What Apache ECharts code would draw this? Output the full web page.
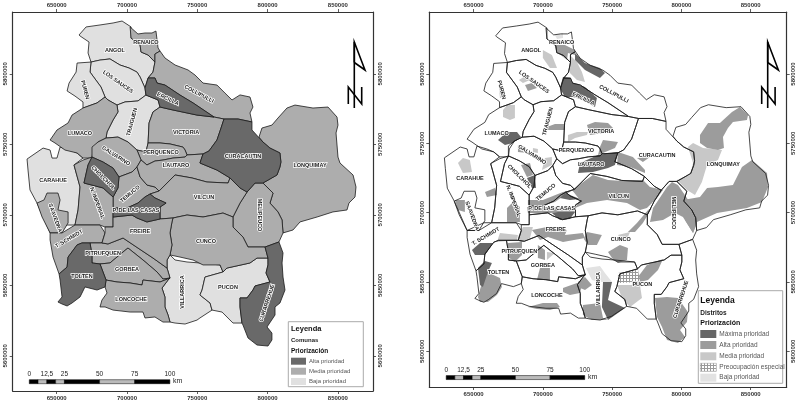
<!DOCTYPE html>
<html>
<head>
<meta charset="utf-8">
<script src="https://cdn.jsdelivr.net/npm/echarts@6/dist/echarts.min.js"></script>
<style>
  html, body { margin: 0; padding: 0; background: #fff; }
  #chart { width: 799px; height: 403px; }
</style>
</head>
<body>
<div id="chart"></div>
<script>
// Grid ticks, UTM metres
const eastTicks = [650000, 700000, 750000, 800000, 850000];
const northTicks = [5600000, 5650000, 5700000, 5750000, 5800000];

// Comuna outlines, [east km, north km]
const angol = [[665.9,5827.5],[670.9,5833.2],[680.8,5834.6],[690.1,5836.0],[696.5,5837.4],[702.9,5833.2],[702.9,5825.3],[709.3,5820.4],[710.0,5815.4],[715.0,5813.3],[719.9,5808.3],[718.5,5801.2],[715.0,5797.0],[712.8,5789.9],[709.3,5797.7],[707.1,5801.2],[701.4,5804.1],[695.0,5806.2],[687.9,5810.5],[680.8,5809.7],[674.4,5808.3],[672.3,5814.7],[673.0,5822.5],[666.6,5826.8]];
const renaico = [[702.2,5833.2],[707.8,5828.2],[712.8,5828.9],[717.8,5828.9],[720.6,5830.3],[721.4,5823.9],[722.1,5818.3],[723.5,5816.1],[719.9,5814.0],[719.9,5808.3],[715.0,5813.3],[710.0,5815.4],[709.3,5820.4],[702.9,5825.3]];
const collipulli = [[723.5,5816.1],[727.0,5811.2],[734.2,5806.2],[743.4,5802.7],[748.4,5799.1],[754.1,5793.4],[764.0,5792.0],[769.7,5786.3],[774.7,5781.4],[780.4,5785.0],[787.5,5783.5],[789.6,5776.4],[787.5,5772.2],[788.9,5765.8],[779.0,5767.9],[769.0,5767.9],[761.9,5769.3],[747.0,5779.3],[737.7,5784.9],[727.0,5792.0],[721.4,5793.4],[719.9,5797.0],[715.0,5797.0],[718.5,5801.2],[719.9,5808.3],[719.9,5814.0]];
const ercilla = [[715.0,5797.0],[719.9,5797.0],[721.4,5793.4],[727.0,5792.0],[737.7,5784.9],[747.0,5779.3],[761.9,5769.3],[749.8,5770.7],[732.7,5774.3],[723.5,5776.4],[722.1,5781.4],[713.5,5784.9],[712.8,5789.9]];
const losSauces = [[674.4,5808.3],[680.8,5809.7],[687.9,5810.5],[695.0,5806.2],[701.4,5804.1],[707.1,5801.2],[709.3,5797.7],[712.8,5789.9],[713.5,5784.9],[707.8,5780.7],[698.6,5780.0],[692.9,5777.8],[686.5,5781.4],[684.4,5783.5],[681.5,5790.6],[673.7,5801.2]];
const puren = [[674.4,5808.3],[664.5,5807.6],[663.8,5801.2],[658.8,5793.4],[657.4,5787.8],[663.0,5784.2],[668.7,5780.0],[668.7,5775.7],[678.7,5779.3],[684.4,5783.5],[681.5,5790.6],[673.7,5801.2]];
const lumaco = [[684.4,5783.5],[686.5,5781.4],[692.9,5777.8],[693.6,5772.9],[690.1,5767.2],[685.8,5758.7],[685.1,5754.4],[679.4,5751.6],[675.8,5745.9],[675.1,5740.2],[668.7,5740.2],[664.5,5743.8],[655.9,5745.9],[648.8,5750.9],[645.3,5753.0],[650.2,5760.1],[658.1,5765.1],[660.9,5770.7],[668.7,5775.7],[678.7,5779.3]];
const traiguen = [[692.9,5777.8],[698.6,5780.0],[707.8,5780.7],[713.5,5784.9],[722.1,5781.4],[723.5,5776.4],[718.5,5772.9],[715.7,5765.1],[715.0,5750.9],[713.5,5744.5],[707.1,5745.9],[700.7,5751.6],[693.6,5755.1],[685.1,5754.4],[685.8,5758.7],[690.1,5767.2],[693.6,5772.9]];
const victoria = [[723.5,5776.4],[732.7,5774.3],[749.8,5770.7],[761.9,5769.3],[769.0,5767.9],[766.9,5761.5],[764.0,5753.0],[758.3,5745.2],[754.1,5743.1],[742.7,5742.4],[741.3,5745.9],[739.8,5748.0],[730.6,5750.2],[723.5,5750.9],[715.0,5750.9],[715.7,5765.1],[718.5,5772.9]];
const perquenco = [[707.1,5745.9],[713.5,5744.5],[715.0,5750.9],[723.5,5750.9],[730.6,5750.2],[739.8,5748.0],[741.3,5745.9],[742.7,5742.4],[741.3,5740.9],[732.7,5740.2],[725.6,5738.8],[719.9,5738.1],[714.2,5735.3],[710.0,5738.8]];
const galvarino = [[675.1,5748.0],[679.4,5751.6],[685.1,5754.4],[693.6,5755.1],[700.7,5751.6],[707.1,5745.9],[710.0,5738.8],[707.1,5733.9],[703.6,5730.3],[694.3,5726.8],[690.1,5733.1],[683.0,5737.4],[675.1,5740.9]];
const cholchol = [[675.1,5740.9],[683.0,5737.4],[690.1,5733.1],[694.3,5726.8],[693.6,5719.0],[690.1,5712.6],[683.0,5719.0],[669.4,5722.5],[672.3,5735.3]];
const temuco = [[694.3,5726.8],[703.6,5730.3],[707.1,5733.9],[709.3,5726.8],[714.2,5721.1],[719.9,5719.7],[722.8,5716.8],[716.4,5714.7],[712.8,5712.6],[707.8,5708.3],[700.0,5704.8],[690.1,5704.8],[690.1,5712.6],[693.6,5719.0]];
const lautaro = [[710.0,5738.8],[714.2,5735.3],[719.9,5738.1],[725.6,5738.8],[732.7,5740.2],[741.3,5740.9],[742.7,5742.4],[754.1,5743.1],[751.9,5736.7],[764.0,5731.7],[773.3,5726.1],[771.9,5722.5],[756.9,5723.2],[746.2,5726.1],[734.2,5728.2],[722.8,5716.8],[719.9,5719.7],[714.2,5721.1],[709.3,5726.8],[707.1,5733.9]];
const curacautin = [[769.0,5767.9],[779.0,5767.9],[788.9,5765.8],[788.9,5760.1],[796.7,5751.6],[801.7,5747.3],[808.8,5743.8],[809.5,5737.4],[808.8,5733.9],[806.7,5728.2],[796.7,5722.5],[791.1,5722.5],[785.4,5716.1],[780.4,5719.0],[773.3,5726.1],[764.0,5731.7],[751.9,5736.7],[754.1,5743.1],[758.3,5745.2],[764.0,5753.0],[766.9,5761.5]];
const lonquimay = [[793.9,5755.1],[796.0,5761.5],[803.1,5763.6],[807.4,5768.6],[813.8,5775.7],[819.5,5777.8],[832.3,5775.7],[843.0,5776.4],[849.4,5769.3],[850.1,5763.6],[848.7,5758.0],[850.1,5740.9],[851.5,5736.7],[860.8,5728.2],[862.9,5719.7],[862.2,5712.6],[857.9,5708.3],[856.5,5703.4],[846.5,5702.0],[835.2,5698.4],[823.1,5694.9],[818.1,5689.2],[811.0,5687.1],[810.3,5696.3],[807.4,5702.0],[801.7,5708.3],[803.9,5715.4],[796.7,5722.5],[806.7,5728.2],[808.8,5733.9],[809.5,5737.4],[808.8,5743.8],[801.7,5747.3],[796.7,5751.6]];
const melipeuco = [[785.4,5716.1],[791.1,5722.5],[796.7,5722.5],[803.9,5715.4],[801.7,5708.3],[807.4,5702.0],[810.3,5696.3],[811.0,5687.1],[808.1,5680.7],[798.2,5677.1],[786.1,5677.1],[782.5,5684.2],[775.4,5691.3],[775.4,5698.4],[776.8,5701.2],[780.4,5708.3]];
const vilcun = [[722.8,5716.8],[734.2,5728.2],[746.2,5726.1],[756.9,5723.2],[771.9,5722.5],[773.3,5726.1],[780.4,5719.0],[785.4,5716.1],[780.4,5708.3],[776.8,5701.2],[775.4,5698.4],[768.3,5701.2],[754.1,5698.4],[742.7,5699.8],[732.7,5697.7],[723.5,5697.0],[723.5,5705.5],[727.8,5708.3],[719.9,5711.9],[716.4,5714.7]];
const padreLasCasas = [[716.4,5714.7],[719.9,5711.9],[727.8,5708.3],[723.5,5705.5],[723.5,5697.0],[714.2,5694.9],[707.1,5697.7],[703.6,5699.8],[690.1,5698.4],[690.1,5704.8],[700.0,5704.8],[707.8,5708.3],[712.8,5712.6]];
const nuevaImperial = [[668.7,5738.8],[675.1,5740.9],[672.3,5735.3],[669.4,5722.5],[683.0,5719.0],[690.1,5712.6],[690.1,5704.8],[690.1,5698.4],[690.1,5691.3],[684.4,5691.3],[680.8,5692.7],[663.0,5692.7],[665.2,5703.4],[666.6,5719.7],[662.3,5735.3]];
const carahue = [[628.9,5739.5],[640.3,5747.3],[645.3,5745.9],[646.7,5740.2],[650.2,5740.2],[652.4,5748.0],[659.5,5745.9],[664.5,5743.8],[668.7,5740.2],[662.3,5735.3],[666.6,5719.7],[665.2,5703.4],[663.0,5692.7],[657.4,5692.7],[645.3,5687.1],[636.0,5708.3],[631.0,5717.6],[629.6,5731.7]];
const saavedra = [[643.1,5715.4],[650.9,5715.4],[652.4,5710.5],[650.9,5703.4],[658.1,5702.0],[658.1,5694.2],[653.8,5687.1],[645.3,5687.1],[639.6,5698.4],[636.0,5708.3],[641.0,5710.5]];
const teodoroSchmidt = [[645.3,5687.1],[653.8,5687.1],[663.0,5692.7],[680.8,5692.7],[684.4,5687.1],[682.2,5680.0],[673.7,5680.0],[668.0,5680.0],[664.5,5678.6],[658.1,5670.0],[657.4,5662.9],[651.7,5658.0],[647.4,5670.0],[645.3,5682.1]];
const tolten = [[668.0,5680.0],[673.7,5680.0],[675.1,5671.5],[675.1,5665.8],[680.8,5665.1],[685.1,5653.7],[684.4,5648.8],[678.7,5646.6],[670.1,5648.8],[666.6,5641.7],[660.9,5637.4],[657.4,5635.3],[653.8,5636.7],[650.9,5638.1],[653.8,5641.7],[652.4,5653.7],[651.7,5658.0],[657.4,5662.9],[658.1,5670.0],[664.5,5678.6]];
const pitrufquen = [[673.7,5680.0],[682.2,5680.0],[686.5,5679.3],[697.2,5683.5],[707.8,5676.4],[718.5,5669.3],[728.5,5662.2],[730.6,5655.1],[725.6,5654.4],[721.4,5659.4],[711.4,5667.9],[700.7,5676.4],[697.2,5673.6],[687.9,5665.8],[680.8,5665.1],[675.1,5665.8],[675.1,5671.5]];
const gorbea = [[680.8,5665.1],[687.9,5665.8],[697.2,5673.6],[700.7,5676.4],[711.4,5667.9],[721.4,5659.4],[725.6,5654.4],[730.6,5655.1],[723.5,5652.3],[711.4,5653.7],[710.7,5650.2],[702.2,5651.6],[692.9,5652.3],[685.1,5653.7]];
const loncoche = [[685.1,5653.7],[692.9,5652.3],[702.2,5651.6],[710.7,5650.2],[711.4,5653.7],[723.5,5652.3],[730.6,5655.1],[729.2,5653.7],[724.9,5648.0],[727.0,5641.7],[727.0,5634.6],[729.2,5628.9],[730.6,5623.9],[725.6,5623.9],[719.9,5627.5],[712.8,5626.8],[711.4,5631.0],[702.2,5631.0],[690.1,5632.4],[684.4,5634.6],[680.8,5634.6],[682.2,5639.5],[685.8,5644.5],[684.4,5648.8]];
const villarrica = [[728.5,5662.2],[728.5,5667.9],[730.6,5671.5],[734.2,5667.9],[742.7,5666.5],[751.9,5665.8],[766.2,5664.4],[768.3,5659.4],[755.5,5655.8],[753.4,5646.6],[751.9,5643.1],[759.1,5637.4],[760.5,5632.4],[751.9,5626.8],[749.8,5625.3],[741.3,5622.5],[734.2,5623.2],[730.6,5623.9],[729.2,5628.9],[727.0,5634.6],[727.0,5641.7],[724.9,5648.0],[729.2,5653.7],[730.6,5655.1]];
const pucon = [[755.5,5655.8],[768.3,5659.4],[771.1,5662.2],[787.5,5665.8],[792.5,5669.3],[800.3,5669.3],[800.3,5664.4],[798.9,5658.7],[801.7,5652.3],[791.1,5649.5],[789.6,5646.6],[785.4,5641.0],[780.4,5641.0],[780.4,5634.6],[781.8,5623.2],[775.4,5623.2],[767.6,5631.0],[760.5,5632.4],[759.1,5637.4],[751.9,5643.1],[753.4,5646.6]];
const cunco = [[732.7,5697.7],[742.7,5699.8],[754.1,5698.4],[768.3,5701.2],[775.4,5698.4],[775.4,5691.3],[782.5,5684.2],[786.1,5677.1],[798.2,5677.1],[800.3,5669.3],[792.5,5669.3],[787.5,5665.8],[771.1,5662.2],[768.3,5659.4],[766.2,5664.4],[754.1,5664.4],[747.0,5667.9],[737.7,5670.0],[730.6,5671.5],[732.0,5678.6],[730.6,5687.1],[732.0,5694.9]];
const freire = [[690.1,5698.4],[690.1,5691.3],[684.4,5691.3],[684.4,5687.1],[682.2,5680.0],[686.5,5679.3],[697.2,5683.5],[707.8,5676.4],[718.5,5669.3],[728.5,5662.2],[728.5,5667.9],[730.6,5671.5],[732.0,5678.6],[730.6,5687.1],[732.0,5694.9],[732.7,5697.7],[723.5,5697.0],[714.2,5694.9],[707.1,5697.7],[703.6,5699.8]];
const curarrehue = [[798.2,5677.1],[808.1,5680.7],[811.0,5672.9],[810.3,5665.8],[811.0,5655.8],[812.4,5646.6],[808.8,5637.4],[805.3,5634.6],[805.3,5628.9],[799.6,5620.4],[803.1,5616.1],[803.1,5611.2],[800.3,5606.9],[792.5,5607.6],[786.1,5612.6],[782.5,5621.8],[781.8,5623.2],[780.4,5634.6],[780.4,5641.0],[785.4,5641.0],[789.6,5646.6],[791.1,5649.5],[801.7,5652.3],[798.9,5658.7],[800.3,5664.4],[800.3,5669.3]];

// Left map: comunas by priority level
const comunasBaja = [angol, losSauces, puren, traiguen, carahue, villarrica, pucon];
const comunasMedia = [renaico, collipulli, lumaco, victoria, perquenco, galvarino, temuco, lautaro, lonquimay, melipeuco, vilcun, nuevaImperial, saavedra, teodoroSchmidt, pitrufquen, gorbea, loncoche, cunco, freire];
const comunasAlta = [ercilla, cholchol, curacautin, padreLasCasas, tolten, curarrehue];
const allComunas = comunasBaja.concat(comunasMedia, comunasAlta);

// Right map: district patches by priority level
const distritosMedia = [
  [[671.2,5774],[674.1,5777.6],[679.8,5777.6],[679.8,5768.3],[676.2,5766.8],[671.2,5769]],
  [[700,5817.3],[706.5,5813.7],[710.2,5804.3],[705.1,5804.3],[700,5811.6]],
  [[682.7,5795.7],[688.5,5799.3],[690.7,5795.7],[685.6,5793.5]],
  [[668.3,5789.9],[671.2,5789.9],[671.9,5782.7],[669,5782.7]],
  [[719.5,5813.7],[724.6,5808.7],[728.2,5801.5],[730.4,5794.2],[724.6,5795.7],[719.5,5800.7]],
  [[718.1,5756],[724.6,5758.2],[732.5,5758.2],[731.8,5756],[723.2,5753.8],[718.1,5750.9]],
  [[701.5,5739.4],[706.5,5740.1],[706.5,5734.3],[699.3,5730.7]],
  [[692.8,5746.6],[696.4,5745.9],[696.4,5743],[692.8,5743.7]],
  [[638.7,5735.8],[642.3,5739.4],[647.3,5738],[648.8,5729.3],[642.3,5728.6]],
  [[669,5685.3],[682,5683.8],[681.3,5680.2],[666.8,5678.8]],
  [[682,5682.4],[685.6,5689.6],[692.8,5689.6],[690.7,5681.7],[683.4,5678.1]],
  [[702.9,5671.6],[708.7,5670.9],[702.9,5665.8]],
  [[754.2,5683.8],[762.9,5686],[761.4,5682.4],[755.6,5681.7]],
  [[804.7,5747.3],[808.4,5750.2],[815.6,5746.6],[829.3,5745.2],[826.4,5738],[818.5,5734.3],[814.8,5722.1],[809.8,5712.7],[804,5716.3],[796.8,5723.5],[806.2,5727.1],[808.4,5735.8]],
  [[753.5,5647.8],[770.1,5647.8],[771.5,5638.4],[762.9,5631.9],[757.1,5638.4]]
];
const distritosAlta = [
  [[682,5748.8],[687.1,5747.3],[689.2,5743],[682,5743.7]],
  [[684.2,5734.3],[690.7,5735.8],[692.8,5727.1],[688.5,5725.7]],
  [[687.1,5792.1],[692.1,5793.5],[695.7,5789.9],[689.2,5787.7]],
  [[708.7,5820.9],[715.9,5820.9],[723.2,5817.3],[723.2,5813.7],[718.1,5815.2],[717.4,5810.1],[710.2,5815.9]],
  [[702.9,5761.8],[708.7,5763.9],[715.9,5763.9],[715.9,5759.6],[703.7,5759.6]],
  [[731.8,5763.2],[737.6,5765.4],[747,5764.7],[750.6,5761],[743.4,5757.4],[734,5756]],
  [[741.2,5747.3],[743.4,5752.4],[754.2,5750.9],[752,5746.6],[739.8,5741.6]],
  [[754.2,5743.7],[765,5740.1],[773.7,5730.7],[773.7,5728.6],[762.9,5732.9],[753.5,5734.3]],
  [[767.9,5739.4],[777.3,5740.1],[772.2,5736.5]],
  [[721,5716.3],[736.1,5727.1],[747,5723.5],[757.8,5722.8],[772.2,5723.5],[777.3,5718.5],[786.7,5716.3],[782.4,5710.5],[775.1,5703.3],[770.1,5701.9],[760.7,5706.9],[746.3,5709.1],[731.8,5706.9],[723.2,5703.3],[726.8,5709.1]],
  [[689.2,5709.1],[700,5709.1],[714.5,5714.9],[721.7,5716.3],[715.9,5712.7],[708.7,5707.7],[701.5,5705.5],[689.2,5705.5]],
  [[688.5,5704],[719.5,5704],[723.2,5700.4],[705.1,5699.7],[689.2,5699.7]],
  [[674.1,5703.3],[678.4,5707.7],[683.4,5704],[683.4,5693.2],[674.1,5693.2]],
  [[636.5,5709.1],[643.7,5709.1],[643.7,5700.4],[638.7,5701.9]],
  [[658.2,5714.9],[665.4,5717.7],[666.8,5712.7],[659.6,5711.3]],
  [[656,5649.2],[659.6,5657.1],[669,5652.8],[670.4,5646.3],[666.8,5640.6],[660.3,5635.5],[654.6,5635.5],[653.1,5639.1]],
  [[674.8,5678.1],[684.9,5678.8],[684.9,5669.4],[679.8,5664.4],[674.8,5668]],
  [[696.4,5676.6],[701.5,5673],[701.5,5665.8],[696.4,5667.3]],
  [[697.9,5660],[705.1,5660],[705.1,5651.4],[695.7,5651.4]],
  [[692.1,5687.4],[702.9,5689.6],[717.4,5687.4],[715.9,5683.8],[728.9,5685.3],[730.4,5681.7],[714.5,5678.8],[703.7,5682.4],[697.9,5680.2]],
  [[729.6,5681],[731.8,5686],[742.6,5683.8],[739,5676.6],[732.5,5676.6]],
  [[761.4,5686],[767.9,5692.5],[775.9,5701.9],[778.7,5703.3],[772.2,5692.5],[766.5,5686]],
  [[747,5671.6],[755.6,5676.6],[761.4,5674.5],[760.7,5665.8],[754.2,5663.6],[749.9,5667.3]],
  [[777.3,5693.2],[779.5,5703.3],[789.6,5718.5],[793.2,5722.1],[797.5,5719.9],[808.4,5704],[811.2,5692.5],[808.4,5685.3],[801.1,5696.8],[795.4,5699.7],[786.7,5694.7]],
  [[813.4,5756],[819.2,5764.7],[827.8,5764.7],[836.5,5772.6],[842.3,5776.2],[848.1,5770.4],[847.3,5766.8],[837.2,5765.4],[833.6,5761],[830,5754.6],[830.7,5746.6],[826.4,5745.2],[818.5,5746.6],[813.4,5750.2]],
  [[813.4,5711.3],[818.5,5717.7],[826.4,5718.5],[837.2,5719.9],[843.7,5732.9],[850.9,5738],[861.8,5728.6],[862.5,5718.5],[858.2,5707.7],[847.3,5703.3],[825.7,5699.7],[811.2,5693.2],[808.4,5685.3],[802.6,5694.7],[801.1,5709.1]],
  [[689.2,5631.9],[700,5634.8],[710.2,5634.8],[712.3,5631.9],[705.1,5629.7],[695.7,5630.4]],
  [[714.5,5645.6],[724.6,5649.2],[728.2,5647.8],[726.8,5642],[719.5,5640.6],[714.5,5642.7]],
  [[725.3,5649.9],[730.4,5653.5],[735.4,5647.8],[730.4,5644.2],[725.3,5646.3]],
  [[728.9,5633.3],[741.2,5634.8],[743.4,5624],[747,5622.5],[735.4,5622.5],[728.9,5626.1]],
  [[768.6,5653.5],[775.1,5662.2],[786.7,5666.5],[783.1,5658.6],[775.9,5651.4],[770.1,5649.9]],
  [[780.9,5638.4],[789.6,5639.1],[797.5,5638.4],[804.7,5628.3],[804,5621.1],[799,5615.3],[802.6,5610.3],[797.5,5605.9],[789.6,5608.1],[786,5617.5],[782.4,5624.7]]
];
const distritosMaxima = [
  [[667.6,5752.4],[674.1,5758.2],[681.3,5758.2],[684.2,5754.6],[678.4,5750.2],[672.6,5748.8]],
  [[723.2,5815.2],[730.4,5807.9],[741.2,5804.3],[744.8,5800.7],[741.2,5797.1],[730.4,5802.9],[723.2,5810.1]],
  [[714.5,5797.8],[719.5,5797.1],[721,5793.5],[730.4,5790.6],[739,5782.7],[737.6,5776.2],[728.9,5781.2],[721.7,5783.4],[715.9,5783.4],[712.3,5789.9]],
  [[726.8,5735.8],[739.8,5741.6],[754.2,5743.7],[752,5734.3],[747,5732.2],[736.1,5729.3],[725.3,5728.6]],
  [[712.3,5710.5],[715.9,5714.1],[723.2,5711.3],[726.8,5709.8],[719.5,5709.1]],
  [[706.5,5699.7],[710.9,5700.4],[723.2,5700.4],[719.5,5695.4],[712.3,5694.7]],
  [[688.5,5725],[694.3,5727.1],[695,5717.7],[692.1,5717.7]],
  [[648.8,5673],[654.6,5678.1],[663.9,5678.1],[658.2,5669.4],[651,5669.4]],
  [[653.1,5660],[658.2,5665.1],[663.2,5663.6],[660.3,5657.1],[656.7,5646.3],[654.6,5647.8]],
  [[743.4,5649.9],[749.9,5649.9],[747,5637],[759.3,5631.2],[747,5622.5],[742.6,5631.9]]
];
const distritosBaja = [
  [[708.7,5828.1],[714.5,5829.6],[714.5,5826],[710.2,5825.3]],
  [[731.1,5660],[741.2,5661.5],[744.8,5656.4],[749.9,5649.9],[741.2,5649.9],[735.4,5651.4]]
];
const distritosEspecial = [
  [[754.2,5656.4],[762.9,5657.9],[768.6,5659.3],[770.1,5649.9],[754.2,5649.2]]
];

// Comuna names, label anchor [east km, north km] and rotation in degrees
const labelNames = ["ANGOL","RENAICO","COLLIPULLI","ERCILLA","LOS SAUCES","PUREN","TRAIGUEN","LUMACO","VICTORIA","GALVARINO","PERQUENCO","LAUTARO","CURACAUTIN","LONQUIMAY","CARAHUE","CHOLCHOL","TEMUCO","N. IMPERIAL","VILCUN","MELIPEUCO","P. DE LAS CASAS","FREIRE","CUNCO","SAAVEDRA","T. SCHMIDT","PITRUFQUEN","GORBEA","TOLTEN","LONCOCHE","VILLARRICA","PUCON","CURARREHUE"];
const labelEast = [691.5,713.5,751.2,729.2,693.6,670.1,703.6,666.6,742,692.2,724.2,734.9,782.5,830.2,647.4,683,702.2,678.7,754.8,794.6,706.4,709.3,756.2,648.8,658.8,683,700,668,702.9,739.8,771.8,799.6];
const labelNorth = [5816.8,5822.4,5785.6,5782.1,5794.2,5788.5,5765.8,5757.3,5758.7,5741.7,5744.5,5734.6,5741,5734.6,5724.6,5726.1,5714.7,5708.3,5711.9,5699.8,5702.7,5687.8,5680.7,5697.7,5682.8,5672.2,5661.5,5656.5,5640.2,5645.2,5648.1,5637.4];
const labelAngle = [0,0,-28,-25,-35,-75,75,0,0,-32,0,0,0,0,0,-45,40,-70,0,-90,0,0,0,-70,30,0,0,0,0,90,0,72];

// Scale bar, km along the bar
const scaleEdges = [0, 6.25, 12.5, 18.75, 25, 50, 75, 100];
const scaleTickValues = [0, 12.5, 25, 50, 75, 100];
const scaleTickNames = ["0", "12,5", "25", "50", "75", "100"];

const FONT = '"Liberation Sans", Arial, sans-serif';
const hatch = document.createElement("canvas");
hatch.width = 3;
hatch.height = 3;
const hctx = hatch.getContext("2d");
hctx.fillStyle = "#fff";
hctx.fillRect(0, 0, 3, 3);
hctx.fillStyle = "#999";
hctx.fillRect(2, 0, 1, 3);
hctx.fillRect(0, 2, 3, 1);

const COLORS = { maxima: "#666", alta: "#9c9c9c", media: "#c8c8c8", baja: "#e2e2e2" };
const LEFT = { alta: "#696969", media: "#adadad", baja: "#e0e0e0" };

// One custom series of closed polygons in km coordinates
function polygons(gridIdx, shapes, fill, stroke, width, z) {
  return {
    type: "custom",
    coordinateSystem: "cartesian2d",
    xAxisIndex: gridIdx * 2,
    yAxisIndex: gridIdx * 2,
    silent: true,
    z: z,
    clip: true,
    data: shapes.map((s, i) => [s[0][0] * 1000, s[0][1] * 1000, i]),
    renderItem: (params, api) => {
      const pts = shapes[api.value(2)].map((p) => api.coord([p[0] * 1000, p[1] * 1000]));
      return {
        type: "polygon",
        shape: { points: pts },
        style: { fill: fill, stroke: stroke, lineWidth: width, lineJoin: "round" }
      };
    }
  };
}

function comunaLabels(gridIdx, z) {
  return {
    type: "custom",
    coordinateSystem: "cartesian2d",
    xAxisIndex: gridIdx * 2,
    yAxisIndex: gridIdx * 2,
    silent: true,
    z: z,
    data: labelNames.map((n, i) => [labelEast[i] * 1000, labelNorth[i] * 1000, i]),
    renderItem: (params, api) => {
      const p = api.coord([api.value(0), api.value(1)]);
      const i = api.value(2);
      return {
        type: "text",
        x: p[0],
        y: p[1],
        rotation: (labelAngle[i] * Math.PI) / 180,
        style: {
          text: labelNames[i],
          font: "bold 5.5px " + FONT,
          fill: "#222",
          stroke: "#fff",
          lineWidth: 1.5,
          align: "center",
          verticalAlign: "middle"
        }
      };
    }
  };
}

function scaleBar(gridIdx, startE, startN, z) {
  const segs = scaleEdges.slice(0, -1).map((e, i) => [(startE + e) * 1000, startN * 1000, i]);
  return [
    {
      type: "custom",
      coordinateSystem: "cartesian2d",
      xAxisIndex: gridIdx * 2,
      yAxisIndex: gridIdx * 2,
      silent: true,
      z: z,
      data: segs,
      renderItem: (params, api) => {
        const i = api.value(2);
        const a = api.coord([(startE + scaleEdges[i]) * 1000, startN * 1000]);
        const b = api.coord([(startE + scaleEdges[i + 1]) * 1000, startN * 1000]);
        return {
          type: "rect",
          shape: { x: a[0], y: a[1] - 2, width: b[0] - a[0], height: 4 },
          style: { fill: i % 2 ? "#bbb" : "#000", stroke: "#000", lineWidth: 0.5 }
        };
      }
    },
    {
      type: "custom",
      coordinateSystem: "cartesian2d",
      xAxisIndex: gridIdx * 2,
      yAxisIndex: gridIdx * 2,
      silent: true,
      z: z,
      data: scaleTickValues.map((v, i) => [(startE + v) * 1000, startN * 1000, i]),
      renderItem: (params, api) => {
        const p = api.coord([api.value(0), api.value(1)]);
        return {
          type: "text",
          x: p[0],
          y: p[1] - 7,
          style: { text: scaleTickNames[api.value(2)], font: "6.5px " + FONT, fill: "#222", align: "center", verticalAlign: "middle" }
        };
      }
    }
  ];
}

function axisPair(gridIdx, min, max, ticks, dim) {
  const isX = dim === "x";
  return [0, 1].map((side) => ({
    type: "value",
    gridIndex: gridIdx,
    min: min,
    max: max,
    position: isX ? (side ? "top" : "bottom") : (side ? "right" : "left"),
    splitLine: { show: false },
    axisLine: { show: true, onZero: false, lineStyle: { color: "#333", width: 1.2 } },
    axisTick: { show: true, length: 3, customValues: ticks, lineStyle: { color: "#333", width: 0.8 } },
    axisLabel: {
      show: true,
      customValues: ticks,
      margin: 4,
      rotate: isX ? 0 : 90,
      color: "#333",
      fontFamily: FONT,
      fontWeight: "bold",
      fontSize: 6,
      formatter: (v) => String(v)
    }
  }));
}

function northArrow(x, top) {
  const st = { stroke: "#000", fill: "none", lineWidth: 1.6 };
  return [
    { type: "polyline", shape: { points: [[x, top], [x, top + 66]] }, style: st },
    { type: "polyline", shape: { points: [[x, top + 20.5], [x + 10.7, top + 28], [x, top], [x, top + 20.5]] }, style: st },
    { type: "polyline", shape: { points: [[x - 6, top + 62], [x - 6, top + 45], [x + 7.4, top + 62], [x + 7.4, top + 45]] }, style: st }
  ];
}

function legendBox(x, y, w, h, title, sub, rows, fonts) {
  const els = [
    { type: "rect", shape: { x: x, y: y, width: w, height: h }, style: { fill: "#fff", stroke: "#aaa", lineWidth: 1 } },
    { type: "text", x: x + fonts.pad, y: fonts.titleY, style: { text: title, font: "bold " + fonts.title + "px " + FONT, fill: "#111", verticalAlign: "middle" } },
    { type: "text", x: x + fonts.pad, y: fonts.subY, style: { text: sub, font: "bold " + fonts.sub + "px " + FONT, fill: "#222", verticalAlign: "middle" } },
    { type: "text", x: x + fonts.pad, y: fonts.prioY, style: { text: "Priorización", font: "bold " + fonts.prio + "px " + FONT, fill: "#111", verticalAlign: "middle" } }
  ];
  rows.forEach((r) => {
    els.push({ type: "rect", shape: { x: x + fonts.pad, y: r.y, width: fonts.swW, height: fonts.swH }, style: { fill: r.fill, stroke: r.stroke || "none", lineWidth: 0.5 } });
    els.push({ type: "text", x: x + fonts.pad + fonts.swW + 3, y: r.y + fonts.swH / 2, style: { text: r.name, font: fonts.row + "px " + FONT, fill: "#555", verticalAlign: "middle" } });
  });
  return els;
}

const chart = echarts.init(document.getElementById("chart"), null, { renderer: "canvas" });

const option = {
  animation: false,
  backgroundColor: "#fff",
  grid: [
    { left: 12.7, top: 12, width: 360.3, height: 379 },
    { left: 429.3, top: 12, width: 357.4, height: 375 }
  ],
  xAxis: [
    ...axisPair(0, 618700, 875000, eastTicks, "x"),
    ...axisPair(1, 618000, 876000, eastTicks, "x")
  ],
  yAxis: [
    ...axisPair(0, 5575000, 5843800, northTicks, "y"),
    ...axisPair(1, 5574200, 5844700, northTicks, "y")
  ],
  series: [
    // left map
    polygons(0, comunasBaja, LEFT.baja, "#1a1a1a", 0.8, 2),
    polygons(0, comunasMedia, LEFT.media, "#1a1a1a", 0.8, 3),
    polygons(0, comunasAlta, LEFT.alta, "#1a1a1a", 0.8, 4),
    comunaLabels(0, 6),
    ...scaleBar(0, 630.5, 5581.6, 6),
    // right map
    polygons(1, allComunas, "#fff", "none", 0, 2),
    polygons(1, distritosBaja, COLORS.baja, "none", 0, 3),
    polygons(1, distritosMedia, COLORS.media, "none", 0, 3),
    polygons(1, distritosAlta, COLORS.alta, "none", 0, 3),
    polygons(1, distritosMaxima, COLORS.maxima, "none", 0, 3),
    polygons(1, distritosEspecial, { image: hatch, repeat: "repeat" }, "none", 0, 3),
    polygons(1, allComunas, "none", "#1a1a1a", 0.8, 4),
    comunaLabels(1, 6),
    ...scaleBar(1, 630.2, 5581, 6)
  ],
  graphic: [
    ...northArrow(354.3, 42),
    ...northArrow(767.7, 42),
    ...legendBox(288.3, 321.7, 75, 65, "Leyenda", "Comunas", [
      { name: "Alta prioridad", fill: LEFT.alta, y: 357.7 },
      { name: "Media prioridad", fill: LEFT.media, y: 367.7 },
      { name: "Baja prioridad", fill: LEFT.baja, y: 378 }
    ], { pad: 2.7, titleY: 329, subY: 340.5, prioY: 351, title: 7.5, sub: 6, prio: 6.5, row: 6, swW: 15, swH: 7 }),
    ...legendBox(698.3, 290.7, 84.4, 92.6, "Leyenda", "Distritos", [
      { name: "Máxima prioridad", fill: COLORS.maxima, y: 330 },
      { name: "Alta prioridad", fill: COLORS.alta, y: 341 },
      { name: "Media prioridad", fill: COLORS.media, y: 352.3 },
      { name: "Preocupación especial", fill: { image: hatch, repeat: "repeat" }, stroke: "#999", y: 363.3 },
      { name: "Baja prioridad", fill: COLORS.baja, y: 373.7 }
    ], { pad: 2, titleY: 300.5, subY: 313, prioY: 323, title: 8.5, sub: 6.5, prio: 7, row: 6.5, swW: 16, swH: 8 }),
    { type: "text", x: 173, y: 381, style: { text: "km", font: "7px " + FONT, fill: "#222", verticalAlign: "middle" } },
    { type: "text", x: 588, y: 377.5, style: { text: "km", font: "7px " + FONT, fill: "#222", verticalAlign: "middle" } }
  ]
};

chart.setOption(option);
</script>
</body>
</html>
